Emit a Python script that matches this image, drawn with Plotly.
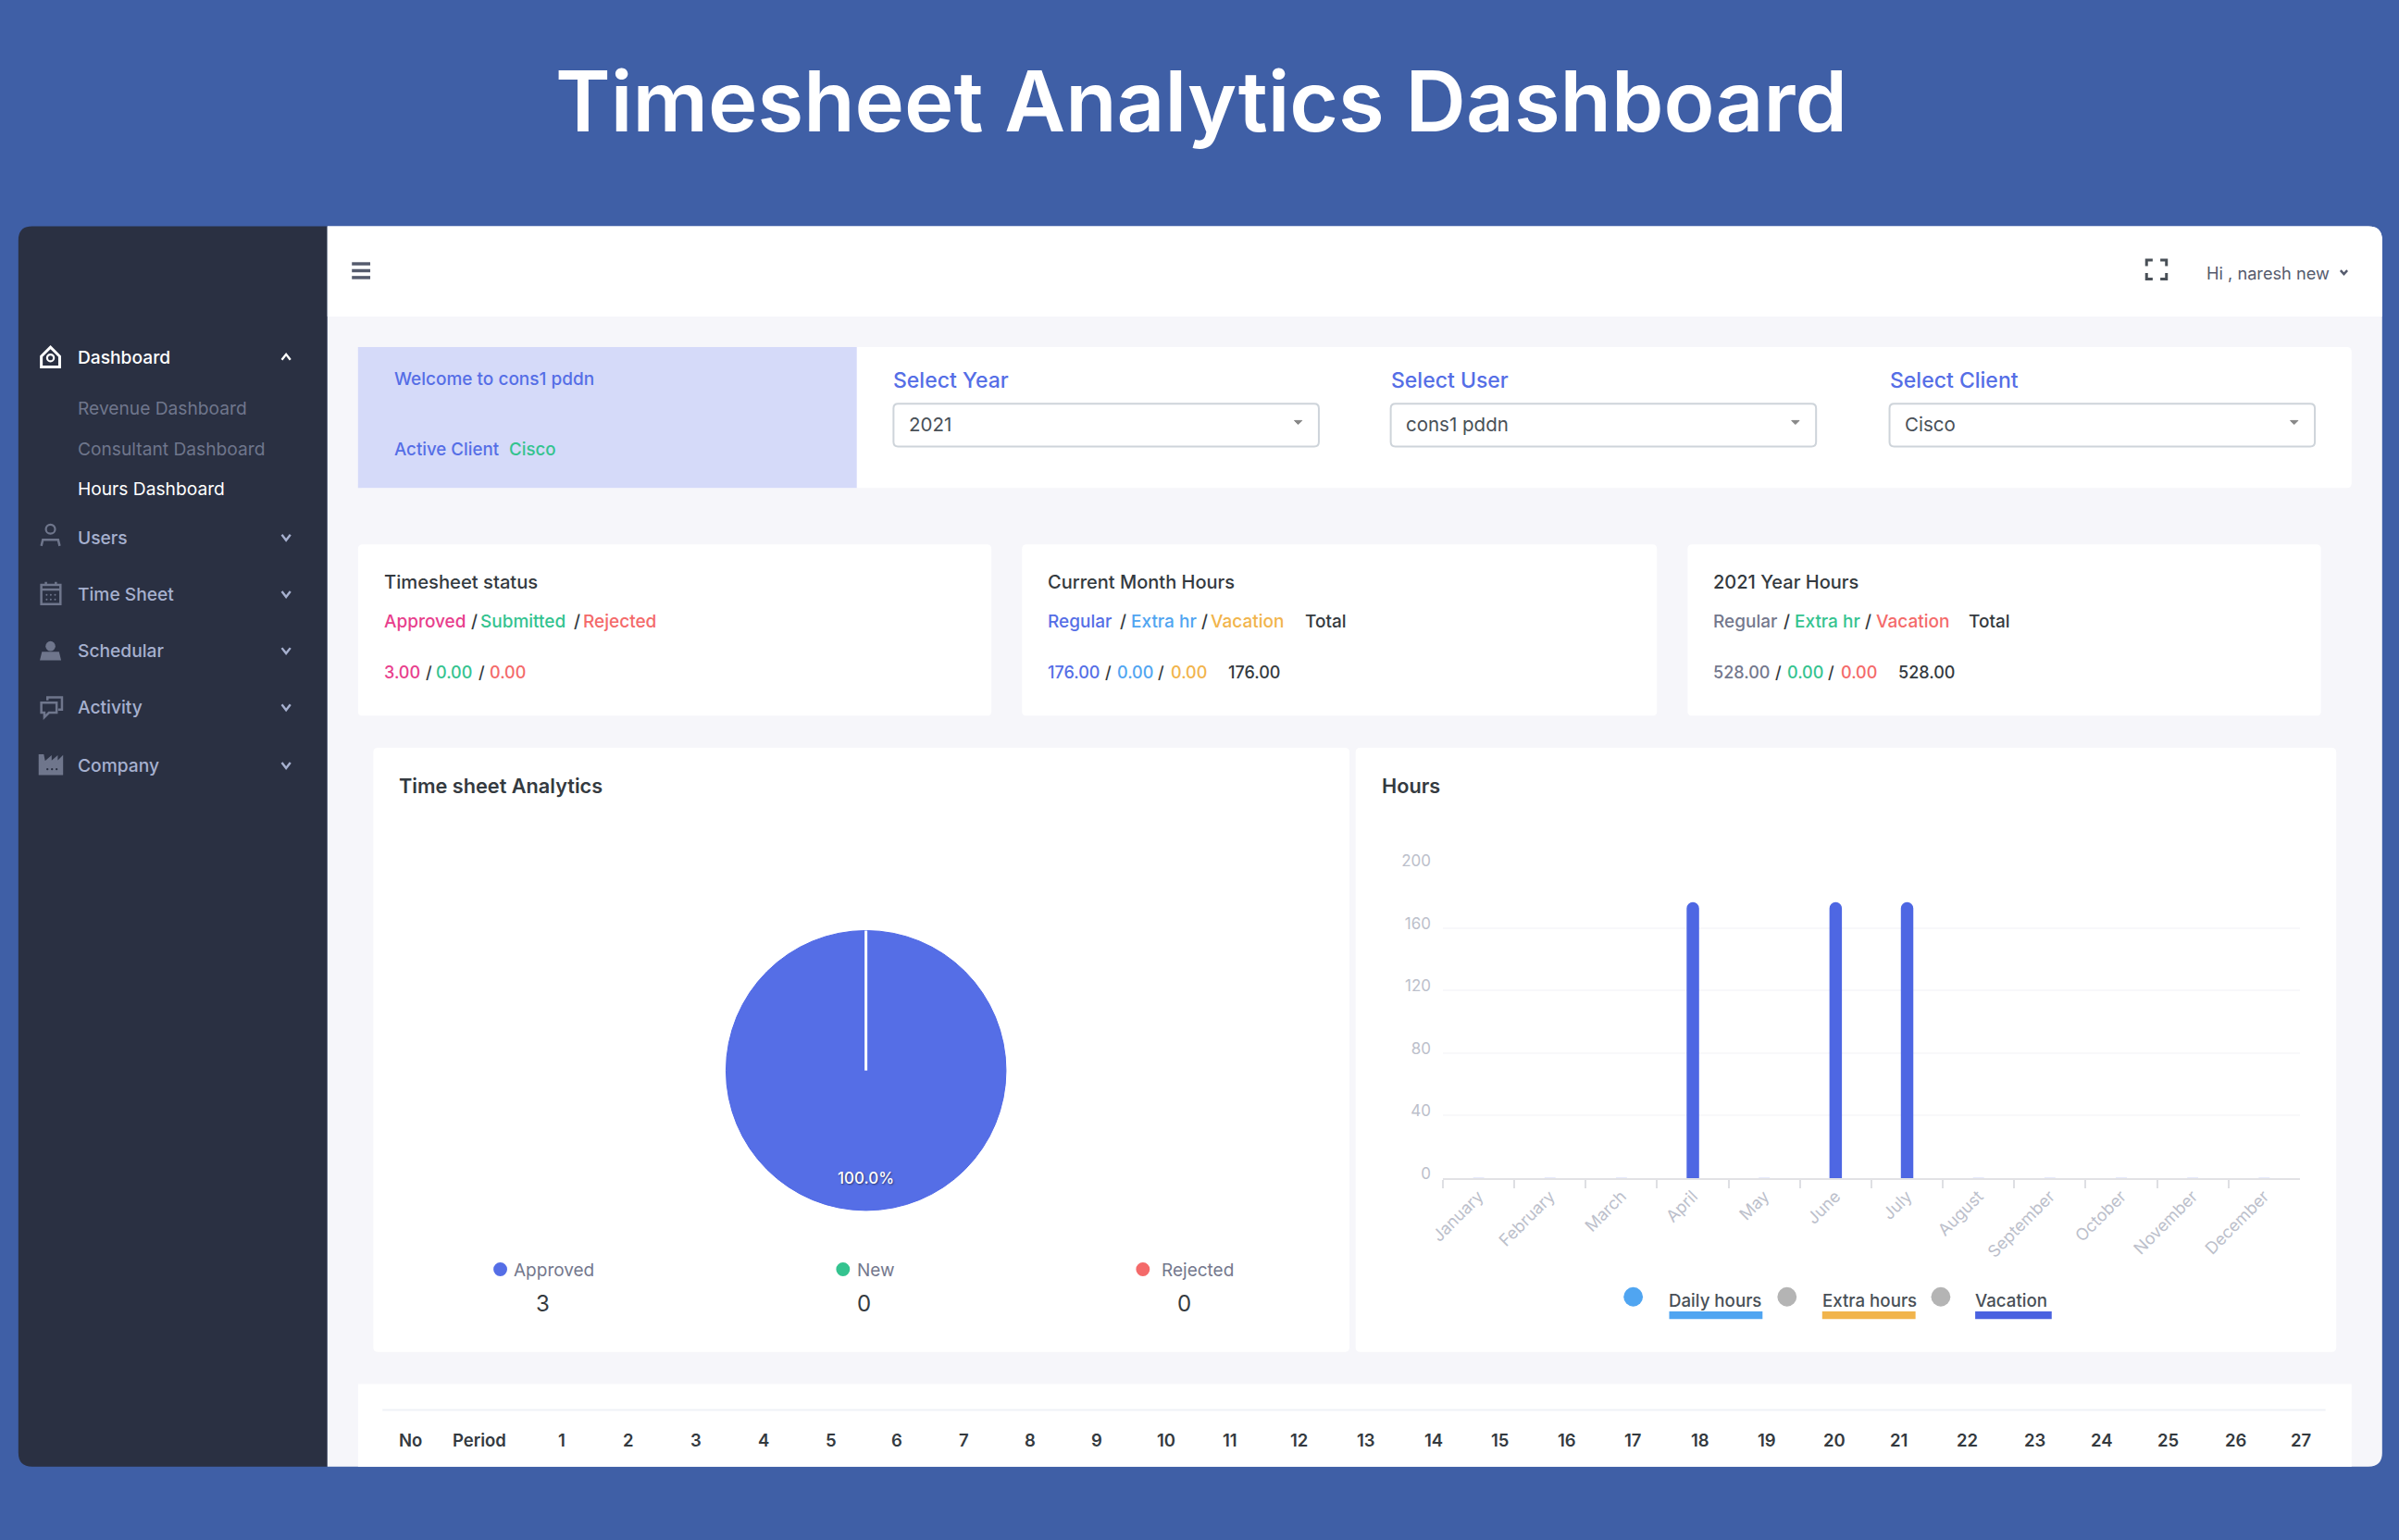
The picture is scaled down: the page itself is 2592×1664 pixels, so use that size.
import plotly.graph_objects as go

W, H = 2592, 1664
# coordinates below are in the 1568x1007 view of the screenshot
SX = W / 1568
SY = H / 1007
FONT = "Inter"

# data
months = ['January', 'February', 'March', 'April', 'May', 'June', 'July',
          'August', 'September', 'October', 'November', 'December']
hours = [0, 0, 0, 176, 0, 176, 176, 0, 0, 0, 0, 0]
hour_ticks = [0, 40, 80, 120, 160, 200]

pie_labels = ['Approved', 'New', 'Rejected']
pie_values = [3, 0, 0]
pie_colors = ['#556ee6', '#34c38f', '#f46a6a']

menu_items = ['Dashboard', 'Users', 'Time Sheet', 'Schedular', 'Activity', 'Company']
menu_y = [233, 351, 388, 425, 462, 500]
sub_items = ['Revenue Dashboard', 'Consultant Dashboard', 'Hours Dashboard']
sub_y = [266, 293, 319]

table_cols = [str(i) for i in range(1, 28)]
table_x = [367, 411, 455, 499, 543, 586, 630, 673, 717, 762, 804, 849, 893, 937,
           980, 1024, 1067, 1111, 1155, 1199, 1241, 1286, 1330, 1374, 1417, 1461, 1504]

BLUE = '#556ee6'
GREEN = '#34c38f'
RED = '#f46a6a'
SKY = '#50a5f1'
AMBER = '#f1b44c'
PINK = '#e83e8c'
DARK = '#343a40'
GREY = '#74788d'
SIDE = '#2a3042'
MUTED = '#6f768c'

shapes = []
annotations = []


def px(x):
    return x * SX / W


def py(y):
    return 1 - y * SY / H


def rounded(x0, y0, x1, y1, r=3, tl=True, tr=True, br=True, bl=True):
    rx, ry = r * SX / W, r * SY / H
    a, b, c, d = px(x0), py(y0), px(x1), py(y1)
    s = f'M {a + (rx if tl else 0)},{b} L {c - (rx if tr else 0)},{b} '
    s += f'Q {c},{b} {c},{b - ry} ' if tr else ''
    s += f'L {c},{d + (ry if br else 0)} '
    s += f'Q {c},{d} {c - rx},{d} ' if br else ''
    s += f'L {a + (rx if bl else 0)},{d} '
    s += f'Q {a},{d} {a},{d + ry} ' if bl else ''
    s += f'L {a},{b - (ry if tl else 0)} '
    s += f'Q {a},{b} {a + rx},{b} ' if tl else ''
    return s + 'Z'


def panel(x0, y0, x1, y1, color='white', layer='below', **kw):
    shapes.append(dict(type='path', path=rounded(x0, y0, x1, y1, **kw), xref='paper', yref='paper',
                       fillcolor=color, line_width=0, layer=layer))


def poly(points, color, width=2.5, fill=None, closed=False):
    s = 'M ' + ' L '.join(f'{px(a)},{py(b)}' for a, b in points) + (' Z' if closed else '')
    shapes.append(dict(type='path', path=s, xref='paper', yref='paper', layer='above',
                       line=dict(color=color, width=width), fillcolor=fill or 'rgba(0,0,0,0)'))


def dot(x, y, r, color, outline=None):
    shapes.append(dict(type='circle', xref='paper', yref='paper', layer='above',
                       x0=px(x - r), x1=px(x + r), y0=py(y + r), y1=py(y - r),
                       fillcolor=color if outline is None else 'rgba(0,0,0,0)',
                       line=dict(color=outline or color, width=2.2 if outline else 0)))


def txt(x, y, s, size=19, color=GREY, anchor='left', weight=400, **font):
    # Inter sits a little high and right of the source font
    dx = -0.6 if anchor == 'left' else 0
    annotations.append(dict(x=px(x + dx), y=py(y + 0.6), text=s, xref='paper', yref='paper', showarrow=False,
                            xanchor=anchor, yanchor='middle', borderpad=0,
                            font=dict(family=FONT, size=size, color=color, weight=weight, **font)))


def chevron(x, y, up=False, color='#a6b0cf', w=2.8, h=1.8):
    d = -h if up else h
    poly([(x - w, y - d), (x, y + d), (x + w, y - d)], color, width=2.4)


# page panels
panel(12, 148, 214, 959, SIDE, r=9, tr=False, br=False)
panel(214, 148, 1557, 959, '#f6f6fa', r=9, tl=False, bl=False)
panel(214, 148, 1557, 207, 'white', r=9, tl=False, bl=False, br=False)
panel(234, 227, 1537, 319)
panel(234, 227, 560, 319, '#d5daf9', r=0.01)
for x0, x1 in [(234, 648), (668, 1083), (1103, 1517)]:
    panel(x0, 356, x1, 468)
panel(244, 489, 882, 884)
panel(886, 489, 1527, 884)
panel(234, 905, 1537, 959, r=0.01)
poly([(250, 922), (1520, 922)], '#eff2f7', width=2)

# title
txt(785, 65.5, 'Timesheet Analytics Dashboard', size=90.5, color='white', anchor='center', weight=600)

# sidebar
for name, y in zip(menu_items, menu_y):
    txt(51, y, name, color='white' if name == 'Dashboard' else '#a6b0cf', size=19.2, weight=500)
    chevron(187, y + 0.5, up=name == 'Dashboard', color='white' if name == 'Dashboard' else '#a6b0cf')
for name, y in zip(sub_items, sub_y):
    txt(51, y, name, color='white' if name == 'Hours Dashboard' else MUTED, size=19.2)

# menu icons
poly([(27, 233), (33, 227), (39, 233), (39, 240), (27, 240)], 'white', width=3, closed=True)
dot(33, 234, 2.2, 'white', outline='white')
dot(33, 346, 3, '', outline=MUTED)
poly([(27, 357), (28, 353), (38, 353), (39, 357)], MUTED)
poly([(27, 382.5), (39.5, 382.5), (39.5, 395), (27, 395)], MUTED, closed=True)
poly([(27, 385.5), (39.5, 385.5)], MUTED)
for tx in [30, 36.5]:
    poly([(tx, 380.5), (tx, 383)], MUTED)
for gx in [30.5, 33.2, 36]:
    for gy in [389, 392]:
        dot(gx, gy, 0.6, MUTED)
dot(33, 422.5, 3.2, MUTED)
poly([(27, 431), (28, 427), (38, 427), (39, 431)], MUTED, fill=MUTED, closed=True)
poly([(31, 458), (31, 456), (40.5, 456), (40.5, 464), (38, 464)], MUTED)
poly([(27, 459.5), (37, 459.5), (37, 466), (32, 466), (29, 469), (29, 466), (27, 466)], MUTED, closed=True)
poly([(26, 506), (26, 494), (28, 494), (29, 499), (33, 495.5), (33, 499), (37, 495.5), (37, 499), (40.5, 495.5), (40.5, 506)],
     MUTED, fill=MUTED, closed=True)
for gx in [31, 34, 37]:
    dot(gx, 503, 0.7, SIDE)

# top bar
for y in [172.5, 177, 181.5]:
    poly([(230, y), (242, y)], '#555b6d', width=3.5)
for a, b in [((1403, 174), (1403, 170)), ((1416, 174), (1416, 170)),
             ((1403, 178.5), (1403, 182.5)), ((1416, 178.5), (1416, 182.5))]:
    end_x = a[0] + (4 if a[0] == 1403 else -4)
    poly([a, b, (end_x, b[1])], '#495057', width=3)
txt(1442, 178, 'Hi , naresh new', size=18.2, color='#555b6d')
chevron(1532, 178, color='#555b6d', w=2.2, h=1.2)

# welcome strip and selects
txt(258, 247, 'Welcome to cons1 pddn', size=19, color=BLUE, weight=500)
txt(258, 293, 'Active Client', size=18.7, color=BLUE, weight=500)
txt(333, 293, 'Cisco', size=18.7, color=GREEN, weight=500)
select_labels = ['Select Year', 'Select User', 'Select Client']
select_values = ['2021', 'cons1 pddn', 'Cisco']
for x, label, value in zip([584, 909, 1235], select_labels, select_values):
    txt(x, 248, label, size=23, color=BLUE, weight=500)
    shapes.append(dict(type='path', path=rounded(x, 264, x + 278, 292), xref='paper', yref='paper',
                       fillcolor='white', line=dict(color='#ced4da', width=2), layer='below'))
    txt(x + 10, 277, value, size=20.5, color='#495057')
    poly([(x + 262, 275), (x + 267, 275), (x + 264.5, 277.5)], '#888', width=1, fill='#888', closed=True)

# status cards
txt(251, 380, 'Timesheet status', size=20.2, color=DARK, weight=500)
txt(685, 380, 'Current Month Hours', size=20, color=DARK, weight=500)
txt(1120, 380, '2021 Year Hours', size=20, color=DARK, weight=500)
card_rows = [
    (406, 19, [(251, 'Approved', PINK), (308, '/', DARK), (314, 'Submitted', GREEN), (375, '/', DARK), (381, 'Rejected', RED),
               (685, 'Regular', BLUE), (732, '/', DARK), (739, 'Extra hr', SKY), (785, '/', DARK), (791, 'Vacation', AMBER),
               (853, 'Total', DARK),
               (1120, 'Regular', GREY), (1166, '/', DARK), (1173, 'Extra hr', GREEN), (1219, '/', DARK), (1226, 'Vacation', RED),
               (1287, 'Total', DARK)]),
    (439, 18, [(251, '3.00', PINK), (278, '/', DARK), (285, '0.00', GREEN), (313, '/', DARK), (320, '0.00', RED),
               (685, '176.00', BLUE), (722, '/', DARK), (730, '0.00', SKY), (757, '/', DARK), (765, '0.00', AMBER),
               (803, '176.00', DARK),
               (1120, '528.00', GREY), (1160, '/', DARK), (1168, '0.00', GREEN), (1195, '/', DARK), (1203, '0.00', RED),
               (1241, '528.00', DARK)]),
]
for y, size, row in card_rows:
    for x, s, c in row:
        txt(x, y, s, size=size, color=c, weight=500)

# chart panels
txt(261, 513, 'Time sheet Analytics', size=21.7, color=DARK, weight=600)
txt(903, 513, 'Hours', size=21.7, color=DARK, weight=600)

# pie legend
for x, tx, vx, label, value, c in zip([327, 551, 747], [336, 560, 759], [355, 565, 774],
                                      pie_labels, pie_values, pie_colors):
    dot(x, 830, 4.5, c)
    txt(tx, 830, label, size=19, color=GREY)
    txt(vx, 852, str(value), size=24, color=DARK, anchor='center')

# bar legend
for dx, tx, ux, label, dc, uc in zip([1067.5, 1168, 1268.5], [1091, 1191, 1291], [1152, 1252, 1341],
                                     ['Daily hours', 'Extra hours', 'Vacation'],
                                     ['#50a5f1', '#b4b4b4', '#b4b4b4'], [SKY, AMBER, '#4a62e0']):
    dot(dx, 848, 6.3, dc)
    txt(tx, 850, label, size=18.7, color='#495057', weight=500)
    panel(tx, 857.5, ux, 862.5, uc, r=0.01, layer='above')

# table header
txt(261, 941, 'No', size=18.5, color=DARK, weight=600)
txt(296, 941, 'Period', size=18.5, color=DARK, weight=600)
for x, s in zip(table_x, table_cols):
    txt(x, 941, s, size=18.5, color=DARK, anchor='center', weight=600)

fig = go.Figure()

fig.add_trace(go.Pie(
    labels=pie_labels, values=pie_values, sort=False, direction='clockwise', rotation=0,
    marker=dict(colors=pie_colors, line=dict(color='#4f68e6', width=1)),
    textinfo='none', hoverinfo='label+percent', showlegend=False,
    domain=dict(x=[px(474.5), px(657.5)], y=[py(791.5), py(608.5)]),
))
# seam the library does not draw on a full circle
poly([(566, 608.5), (566, 700)], 'white', width=3)
txt(566, 770, '100.0%', size=17, color='white', anchor='center', weight=500,
    shadow='1px 1px 2px rgba(0,0,0,0.5)')

# zero months still leave a faint stub on the baseline, as in the source
stub_colors = ['#dfe3fb' if v == 0 else '#4e67e3' for v in hours]
fig.add_trace(go.Bar(
    x=months, y=hours, width=0.155, showlegend=False, name='Hours',
    marker=dict(color='#4e67e3', cornerradius=6, line=dict(color=stub_colors, width=1.5)),
))

fig.update_layout(
    width=W, height=H, autosize=False,
    margin=dict(l=0, r=0, t=0, b=0, pad=0, autoexpand=False),
    paper_bgcolor='#3f5fa6', plot_bgcolor='rgba(0,0,0,0)',
    font=dict(family=FONT),
    shapes=shapes, annotations=annotations,
    xaxis=dict(domain=[px(943.1), px(1503.2)], type='category', categoryorder='array', categoryarray=months,
               automargin=False, tickangle=-45, tickson='boundaries', ticks='outside', ticklen=9, tickwidth=1.5,
               tickcolor='#dedfe3', tickfont=dict(size=18, color='#bcc0cb'), showline=True, linecolor='#e2e2e5',
               linewidth=2, showgrid=False, zeroline=False, fixedrange=True),
    yaxis=dict(domain=[py(770.4), py(565.8)], range=[0, 200], tickvals=hour_ticks, automargin=False,
               tickfont=dict(size=17, color='#bcc0cb'), ticks='', ticklabelstandoff=12, ticklabelshift=-5,
               showgrid=True, gridcolor='#f8f8fa', gridwidth=1.5, zeroline=False, showline=False, fixedrange=True),
)

fig.write_html("out.html", config=dict(displayModeBar=False),
               post_script="document.body.style.margin='0';document.body.style.overflow='hidden';")
